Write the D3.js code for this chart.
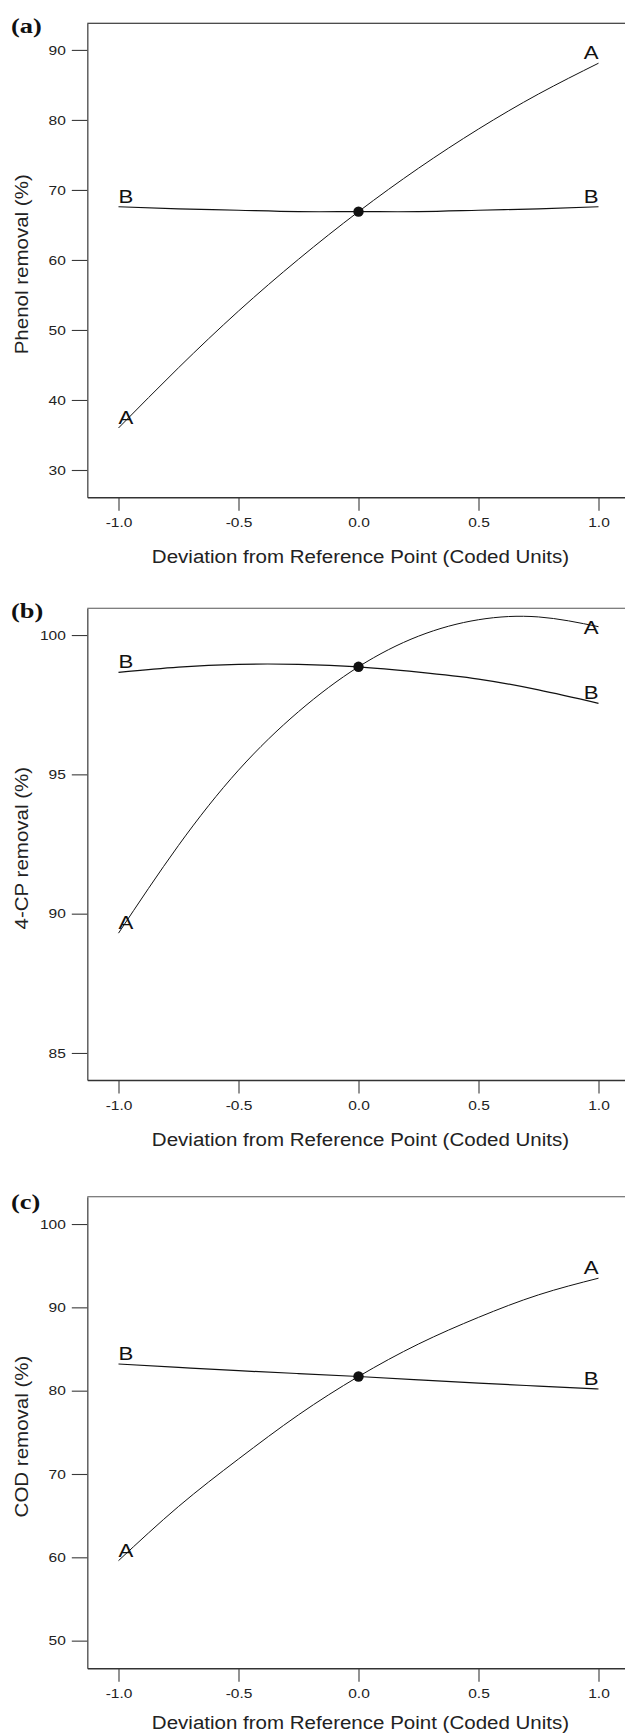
<!DOCTYPE html>
<html>
<head>
<meta charset="utf-8">
<script src="https://cdn.jsdelivr.net/npm/d3@7"></script>
<style>
  html, body { margin: 0; padding: 0; background: #fff; }
  svg { display: block; }
</style>
</head>
<body>
<svg id="chart" width="625" height="1735"></svg>
<script>
// ---- data -------------------------------------------------------------
// coded deviation from the reference point
const codedX = [-1, -0.75, -0.5, -0.25, 0, 0.25, 0.5, 0.75, 1];
const xTickValues = [-1, -0.5, 0, 0.5, 1];

// (a) phenol removal (%)
const phenolA = [36.0, 44.6, 52.7, 60.1, 66.9, 73.1, 78.7, 83.7, 88.1];
const phenolB = [67.6, 67.3, 67.1, 66.9, 66.9, 66.9, 67.1, 67.3, 67.6];
const phenolTicks = [30, 40, 50, 60, 70, 80, 90];
const phenolRange = [26.1, 93.8];

// (b) 4-CP removal (%)
const cpA = [89.3, 92.45, 95.15, 97.25, 98.86, 99.96, 100.55, 100.65, 100.3];
const cpB = [98.66, 98.85, 98.95, 98.95, 98.86, 98.67, 98.42, 98.03, 97.55];
const cpTicks = [85, 90, 95, 100];
const cpRange = [84.03, 100.96];

// (c) COD removal (%)
const codA = [59.6, 66.1, 71.8, 77.1, 81.7, 85.6, 88.8, 91.5, 93.5];
const codB = [83.2, 82.8, 82.4, 82.05, 81.7, 81.3, 80.9, 80.55, 80.2];
const codTicks = [50, 60, 70, 80, 90, 100];
const codRange = [46.68, 103.28];

// reference point response (centre of each plot)
const referenceValues = [66.9, 98.86, 81.7];

const panelTags = ["(a)", "(b)", "(c)"];
const yTitles = ["Phenol removal (%)", "4-CP removal (%)", "COD removal (%)"];
const xTitle = "Deviation from Reference Point (Coded Units)";
const factorNames = ["A", "B"];

// ---- layout -----------------------------------------------------------
const panels = [
  { top: 23.3,   bottom: 497.3,  tagBase: 33,   titleGap: 66,   series: [phenolA, phenolB], ticks: phenolTicks, domain: phenolRange },
  { top: 608.3,  bottom: 1080,   tagBase: 618,  titleGap: 65.5, series: [cpA, cpB],         ticks: cpTicks,     domain: cpRange },
  { top: 1196.7, bottom: 1668.3, tagBase: 1209, titleGap: 61,   series: [codA, codB],       ticks: codTicks,    domain: codRange }
];
// vertical nudge of an end label relative to its default spot (panel, series, end)
const labelNudge = { "1-0-1": 11 };

const SANS = "'Liberation Sans', Arial, Helvetica, sans-serif";
const SERIF = "'Liberation Serif', 'Times New Roman', serif";
const INK = "#111";
const AXIS = "#3a3a3a";

const svg = d3.select("#chart");
const x = d3.scaleLinear().domain([-1.13, 1.13]).range([87.3, 629.7]);
// plain hyphen-minus for negative tick labels
const fmtX = d => d.toFixed(1);

panels.forEach((p, i) => {
  const g = svg.append("g");
  const y = d3.scaleLinear().domain(p.domain).range([p.bottom, p.top]);

  // frame: top border (right border falls outside the page)
  g.append("line")
    .attr("x1", x.range()[0]).attr("x2", x.range()[1])
    .attr("y1", p.top).attr("y2", p.top)
    .attr("stroke", i === 0 ? "#111" : "#555").attr("stroke-width", 1.1);
  g.append("line")
    .attr("x1", x.range()[1]).attr("x2", x.range()[1])
    .attr("y1", p.top).attr("y2", p.bottom)
    .attr("stroke", "#555").attr("stroke-width", 1.1);

  // y axis
  const yAxis = g.append("g")
    .attr("transform", `translate(${x.range()[0]},0)`)
    .call(d3.axisLeft(y).tickValues(p.ticks).tickSize(15.5).tickPadding(6).tickSizeOuter(0));
  yAxis.select(".domain").attr("stroke", "#555").attr("stroke-width", 1.4);
  yAxis.selectAll(".tick line").attr("stroke", AXIS).attr("stroke-width", 1.1);
  yAxis.selectAll(".tick text")
    .attr("font-family", SANS).attr("font-size", 13.5).attr("fill", "#222")
    .attr("x", -21.5 / 1.15)
    .attr("transform", "scale(1.15,1)");

  // x axis
  const xAxis = g.append("g")
    .attr("transform", `translate(0,${p.bottom})`)
    .call(d3.axisBottom(x).tickValues(xTickValues).tickFormat(fmtX)
      .tickSize(13.5).tickPadding(7).tickSizeOuter(0));
  xAxis.select(".domain").attr("stroke", "#333").attr("stroke-width", 1.5);
  xAxis.selectAll(".tick line").attr("stroke", AXIS).attr("stroke-width", 1.1);
  xAxis.selectAll(".tick text")
    .attr("font-family", SANS).attr("font-size", 13.5).attr("fill", "#222")
    .attr("transform", "scale(1.15,1)");

  // axis titles
  g.append("text")
    .attr("transform", `translate(${x(0) + 2},${p.bottom + p.titleGap}) scale(1.08,1)`)
    .attr("text-anchor", "middle")
    .attr("font-family", SANS).attr("font-size", 19).attr("fill", "#222")
    .text(xTitle);
  g.append("text")
    .attr("transform", `translate(28,${(p.top + p.bottom) / 2 + 4}) rotate(-90) scale(1.08,1)`)
    .attr("text-anchor", "middle")
    .attr("font-family", SANS).attr("font-size", 19).attr("fill", "#222")
    .text(yTitles[i]);

  // panel tag
  g.append("text")
    .attr("transform", `translate(11,${p.tagBase}) scale(1.2,1)`)
    .attr("font-family", SERIF).attr("font-weight", "bold").attr("font-size", 22)
    .attr("fill", "#111")
    .text(panelTags[i]);

  // perturbation curves
  const line = d3.line()
    .x(d => x(d[0]))
    .y(d => y(d[1]))
    .curve(d3.curveNatural);

  p.series.forEach((vals, s) => {
    const pts = codedX.map((c, k) => [c, vals[k]]);
    g.append("path")
      .datum(pts)
      .attr("fill", "none")
      .attr("stroke", INK)
      .attr("stroke-width", s === 1 ? 1.2 : 1)
      .attr("d", line);

    // factor labels at both ends of each curve
    [0, 1].forEach(end => {
      const pt = end === 0 ? pts[0] : pts[pts.length - 1];
      const dy = -4 + (labelNudge[`${i}-${s}-${end}`] || 0);
      g.append("text")
        .attr("transform", `translate(${x(pt[0])},${y(pt[1]) + dy}) scale(1.2,1)`)
        .attr("text-anchor", end === 0 ? "start" : "end")
        .attr("font-family", SANS).attr("font-size", 18.5).attr("fill", "#111")
        .text(factorNames[s]);
    });
  });

  // reference point
  g.append("circle")
    .attr("cx", x(0))
    .attr("cy", y(referenceValues[i]))
    .attr("r", 5.2)
    .attr("fill", INK);
});
</script>
</body>
</html>
